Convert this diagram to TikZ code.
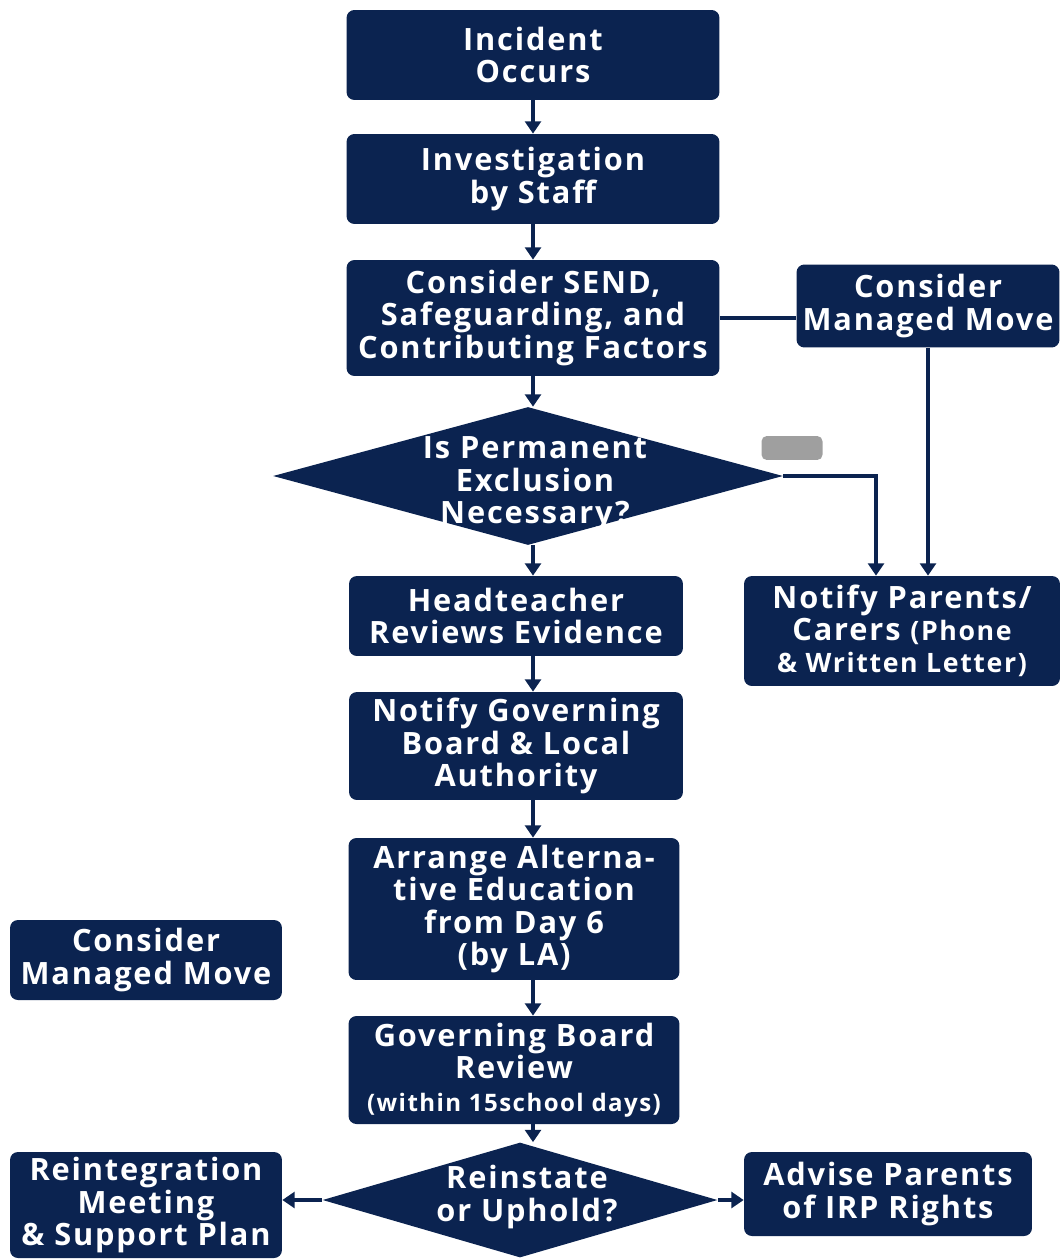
\documentclass[tikz,border=0pt]{standalone}
\usepackage{fontspec}
\setmainfont{Open Sans}[LetterSpace=6]
\usetikzlibrary{shapes.geometric,arrows.meta}
\definecolor{navy}{HTML}{0B2350}
\begin{document}
\begin{tikzpicture}[x=0.02cm,y=-0.02cm,font=\bfseries\fontsize{17.5}{18.4}\selectfont,
	box/.style={fill=navy,text=white,rounded corners=4.5pt,align=center,inner sep=2pt},
	dia/.style={diamond,fill=navy,text=white,align=center,inner sep=0pt},
	arr/.style={draw=navy,line width=1.8pt,-{Triangle[width=9pt,length=7pt]}},
	ln/.style={draw=navy,line width=1.8pt}]
	\useasboundingbox (0,0) rectangle (1062,1260);
	\path (533,0) coordinate (spine);
	% main column
	\node[box,minimum width=7.46cm,minimum height=1.8cm] (inc) at (533,55) {Incident\\Occurs};
	\node[box,minimum width=7.46cm,minimum height=1.8cm] (inv) at (533,179) {Investigation\\by Staff};
	\node[box,minimum width=7.46cm,minimum height=2.32cm] (send) at (533,318) {Consider SEND,\\Safeguarding, and\\Contributing Factors};
	\node[dia,minimum width=10.2cm,minimum height=2.76cm] (dec) at (528,476) {};
	\node[text=white,align=center] (decT) at (535,484) {Is Permanent\\Exclusion\\Necessary?};
	\node[box,minimum width=6.68cm,minimum height=1.6cm] (head) at (516,616) {Headteacher\\Reviews Evidence};
	\node[box,minimum width=6.68cm,minimum height=2.16cm] (gov) at (516,746) {Notify Governing\\Board \& Local\\Authority};
	\node[box,minimum width=6.62cm,minimum height=2.84cm] (alt) at (514,909) {Arrange Alterna-\\tive Education\\from Day 6\\(by LA)};
	\node[box,minimum width=6.62cm,minimum height=2.16cm] (rev) at (514,1070) {Governing Board\\Review\\{\fontsize{13.7}{16}\selectfont(within 15school days)}};
	\node[dia,minimum width=7.9cm,minimum height=2.3cm] (dec2) at (520,1200) {};
	\node[text=white,align=center] (dec2T) at (527,1197) {Reinstate\\or Uphold?};
	% side boxes
	\node[box,minimum width=5.26cm,minimum height=1.66cm] (mmR) at (928,306) {Consider\\Managed Move};
	\node[fill=gray!75,rounded corners=3pt,minimum width=1.22cm,minimum height=0.48cm] (tag) at (792,448) {};
	\node[box,minimum width=6.32cm,minimum height=2.2cm] (par) at (902,631) {Notify Parents/\\Carers {\fontsize{15.2}{16}\selectfont(Phone}\\{\fontsize{15.2}{16}\selectfont\& Written Letter)}};
	\node[box,minimum width=5.44cm,minimum height=1.6cm] (mmL) at (146,960) {Consider\\Managed Move};
	\node[box,minimum width=5.44cm,minimum height=2.12cm] (reint) at (146,1205) {Reintegration\\Meeting\\\& Support Plan};
	\node[box,minimum width=5.76cm,minimum height=1.68cm] (adv) at (888,1194) {Advise Parents\\of IRP Rights};
	% connectors
	\foreach \a/\b in {inc/inv,inv/send,send/dec,dec/head,head/gov,gov/alt,alt/rev,rev/dec2}
	\draw[arr] (\a.south -| spine) -- (\b.north -| spine);
	\draw[ln] (send.east) -- (send.east -| mmR.west);
	\draw[arr] (mmR.south) -- (mmR.south |- par.north);
	\draw[arr] (dec.east) -| ([xshift=-0.52cm]par.north);
	\draw[arr] (dec2.west) -- (dec2.west -| reint.east);
	\draw[arr] (dec2.east) -- (dec2.east -| adv.west);
\end{tikzpicture}
\end{document}
